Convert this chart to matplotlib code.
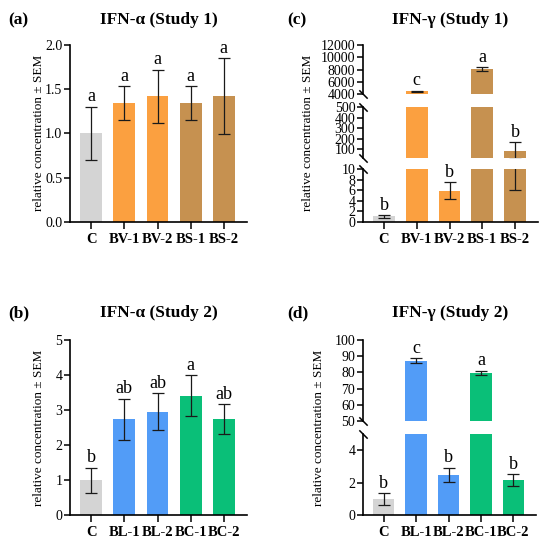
import numpy as np
import matplotlib.pyplot as plt

plt.rcParams['font.family'] = ['Liberation Serif', 'DejaVu Serif']

# Data (mean and SEM)
groups_s1 = ['C', 'BV-1', 'BV-2', 'BS-1', 'BS-2']
groups_s2 = ['C', 'BL-1', 'BL-2', 'BC-1', 'BC-2']

ifna_s1_mean = [1.0, 1.345, 1.42, 1.345, 1.42]
ifna_s1_sem = [0.30, 0.19, 0.30, 0.19, 0.43]
ifna_s1_letters = ['a', 'a', 'a', 'a', 'a']

ifna_s2_mean = [1.0, 2.74, 2.96, 3.41, 2.75]
ifna_s2_sem = [0.36, 0.59, 0.53, 0.58, 0.42]
ifna_s2_letters = ['b', 'ab', 'ab', 'a', 'ab']

ifng_s1_mean = [1.0, 4450, 5.9, 8050, 88]
ifng_s1_sem = [0.2, 60, 1.6, 350, 82]
ifng_s1_letters = ['b', 'c', 'b', 'a', 'b']

ifng_s2_mean = [1.0, 87.2, 2.47, 79.8, 2.15]
ifng_s2_sem = [0.36, 1.5, 0.45, 1.2, 0.36]
ifng_s2_letters = ['b', 'c', 'b', 'a', 'b']

colors_s1 = ['#d4d4d4', '#fba040', '#fba040', '#c69150', '#c69150']
colors_s2 = ['#d4d4d4', '#529cf7', '#529cf7', '#0abf78', '#0abf78']

W, H = 550, 548
fig = plt.figure(figsize=(W / 100, H / 100), dpi=100)


def add_axes_px(left, right, top, bottom):
    return fig.add_axes([left / W, 1 - bottom / H, (right - left) / W, (bottom - top) / H])


def draw_panel(left, right, segments, groups, means, sems, colors, letters):
    # segments listed top to bottom: (top_px, bottom_px, ylo, yhi, yticks)
    x = np.arange(len(groups))
    means = np.array(means, dtype=float)
    sems = np.array(sems, dtype=float)
    n = len(segments)
    axes = []
    for k, (top, bot, ylo, yhi, ticks) in enumerate(segments):
        ax = add_axes_px(left, right, top, bot)
        ax.bar(x, means, width=0.66, color=colors)
        # only error bars that reach into this segment
        show = (means + sems >= ylo) & (means - sems <= yhi)
        ax.errorbar(x[show], means[show], yerr=sems[show], fmt='none', capsize=4,
                    elinewidth=0.9, capthick=0.9, ecolor='#1a1a1a')
        ax.set_xlim(-0.64, 4.7)
        ax.set_ylim(ylo, yhi)
        ax.set_yticks(ticks)
        ax.set_yticklabels([str(t) for t in ticks])
        ax.spines['top'].set_visible(False)
        ax.spines['right'].set_visible(False)
        ax.spines['left'].set_linewidth(1.2)
        ax.tick_params(axis='y', length=4, width=1.1, pad=1.5, labelsize=10)
        if k == n - 1:
            ax.spines['bottom'].set_linewidth(1.2)
            ax.set_xticks(x)
            ax.set_xticklabels(groups, fontweight='bold', fontsize=10.5)
            ax.tick_params(axis='x', length=5, width=1.1, pad=3)
        else:
            ax.spines['bottom'].set_visible(False)
            ax.set_xticks([])
            ax.plot([0], [0], transform=ax.transAxes, marker=[(-1, 1), (1, -1)],
                    markersize=6, mew=1.1, color='k', clip_on=False)
        if k > 0:
            ax.plot([0], [1], transform=ax.transAxes, marker=[(-1, 1), (1, -1)],
                    markersize=6, mew=1.1, color='k', clip_on=False)
        axes.append(ax)

    # significance letters
    for i in range(len(groups)):
        top_val = means[i] + sems[i]
        for k, seg in enumerate(segments):
            if seg[2] <= top_val <= seg[3]:
                axes[k].annotate(letters[i], (x[i], top_val), xytext=(0, 1),
                                 textcoords='offset points', ha='center', va='bottom',
                                 fontsize=13, annotation_clip=False)
                break
    return axes


# (a) IFN-a study 1
draw_panel(70, 247, [(45, 221.7, 0, 2.0, [0.0, 0.5, 1.0, 1.5, 2.0])],
           groups_s1, ifna_s1_mean, ifna_s1_sem, colors_s1, ifna_s1_letters)
# (b) IFN-a study 2
draw_panel(70, 247, [(340, 515.3, 0, 5, [0, 1, 2, 3, 4, 5])],
           groups_s2, ifna_s2_mean, ifna_s2_sem, colors_s2, ifna_s2_letters)
# (c) IFN-g study 1, broken axis
draw_panel(363, 538, [(45, 94, 4000, 12000, [4000, 6000, 8000, 10000, 12000]),
                      (107.3, 157.7, 20, 500, [100, 200, 300, 400, 500]),
                      (169.3, 221.7, 0, 10, [0, 2, 4, 6, 8, 10])],
           groups_s1, ifng_s1_mean, ifng_s1_sem, colors_s1, ifng_s1_letters)
# (d) IFN-g study 2, broken axis
draw_panel(363, 536, [(340, 421, 50, 100, [50, 60, 70, 80, 90, 100]),
                      (433.6, 515.3, 0, 5, [0, 2, 4])],
           groups_s2, ifng_s2_mean, ifng_s2_sem, colors_s2, ifng_s2_letters)

# panel labels and titles
for lx, tx, ty, lab, title in [(8, 158.5, 20, '(a)', 'IFN-α (Study 1)'),
                               (8, 158.5, 313, '(b)', 'IFN-α (Study 2)'),
                               (287, 450, 20, '(c)', 'IFN-γ (Study 1)'),
                               (287, 450, 313, '(d)', 'IFN-γ (Study 2)')]:
    fig.text(lx / W, 1 - ty / H, lab, fontsize=12.5, fontweight='bold', va='center', ha='left')
    fig.text(tx / W, 1 - ty / H, title, fontsize=12.5, fontweight='bold', va='center', ha='center')

for yx, yy in [(39, 133), (39, 428), (308, 133), (319, 428)]:
    fig.text(yx / W, 1 - yy / H, 'relative concentration ± SEM', rotation=90,
             fontsize=9.5, va='center', ha='center')

plt.savefig('out.png', dpi=100)
